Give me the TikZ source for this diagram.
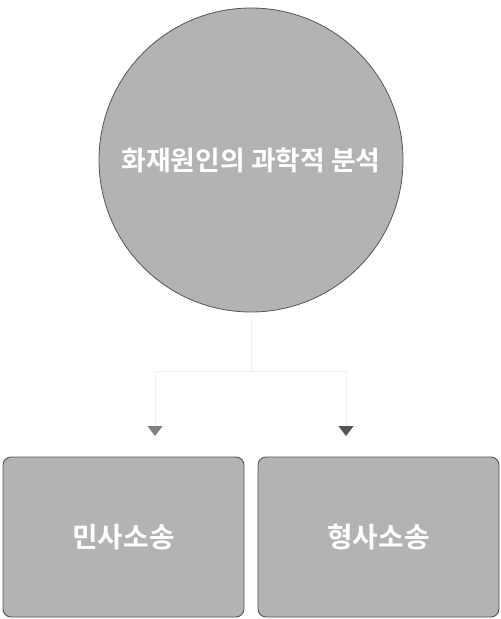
\documentclass[tikz,border=0pt]{standalone}
\usepackage{fontspec}
\setmainfont{Noto Sans CJK KR}
\newfontfamily\krfont{Noto Sans CJK KR Bold}
\usetikzlibrary{arrows.meta, shapes, positioning}
\definecolor{boxgray}{HTML}{B3B3B3}
\definecolor{edgegray}{HTML}{555555}
\definecolor{linkgray}{HTML}{EEEEEE}

\begin{document}
\begin{tikzpicture}[x=1pt, y=-1pt,
  topic/.style={circle, draw=edgegray, line width=0.8pt, fill=boxgray, minimum size=304pt, inner sep=0pt, text=white, font=\krfont\fontsize{26.8}{30}\selectfont},
  casebox/.style={rectangle, rounded corners=8pt, draw=edgegray, line width=0.9pt, fill=boxgray, minimum width=241pt, minimum height=160pt, inner sep=0pt, text=white, font=\krfont\fontsize{27.8}{31}\selectfont},
  link/.style={draw=linkgray, line width=1pt}]
\useasboundingbox (0,0) rectangle (501,619);

\node [topic] (fire) at (251,160) {화재원인의 과학적 분석};
\node [casebox] (civil) at (123.5,537) {민사소송};
\node [casebox] (criminal) at (378.5,537) {형사소송};

\coordinate (split) at (251,371);
\coordinate (civil tip) at (155,436);
\coordinate (criminal tip) at (346,436);

\draw [link] (fire.south) -- (split);
\draw [link, -{Triangle[width=15pt, length=10pt, color=gray]}] (split) -| (civil tip);
\draw [link, -{Triangle[width=15pt, length=10pt, color=edgegray]}] (split) -| (criminal tip);
\end{tikzpicture}
\end{document}
